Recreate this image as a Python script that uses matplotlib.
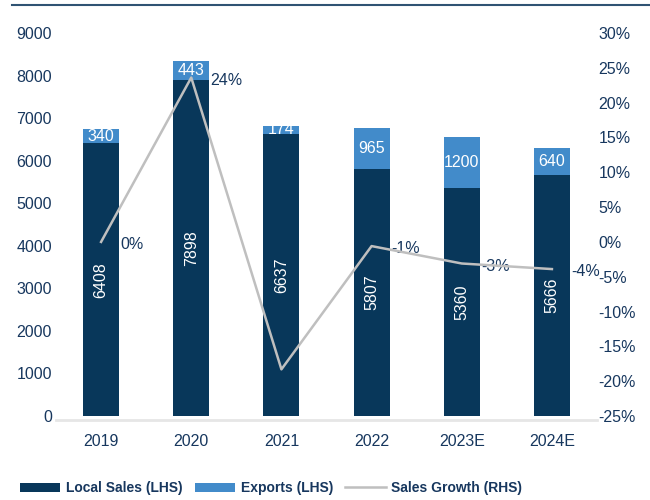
import matplotlib
matplotlib.use("Agg")
import matplotlib.pyplot as plt
from matplotlib.lines import Line2D

plt.rcParams['font.family'] = ['Liberation Sans', 'DejaVu Sans']

years = ["2019", "2020", "2021", "2022", "2023E", "2024E"]
local_sales = [6408, 7898, 6637, 5807, 5360, 5666]
exports = [340, 443, 174, 965, 1200, 640]
growth = [0.0, 23.6, -18.3, -0.6, -3.1, -3.9]
growth_labels = ["0%", "24%", "", "-1%", "-3%", "-4%"]

navy = "#08375a"
blue = "#428bca"
grey = "#bfbfbf"
txt = "#17375e"

fig = plt.figure(figsize=(6.5, 5), dpi=100)
ax = fig.add_axes([56/650, 84/500, 541/650, 383/500])
ax2 = ax.twinx()

x = list(range(len(years)))
ax.bar(x, local_sales, width=0.4, color=navy, zorder=2, label="Local Sales (LHS)")
ax.bar(x, exports, width=0.4, bottom=local_sales, color=blue, zorder=2, label="Exports (LHS)")

for i in x:
    ax.text(i, local_sales[i] / 2, str(local_sales[i]), rotation=90, ha="center", va="center",
            color="white", fontsize=11.5, zorder=3)
    ax.text(i, local_sales[i] + exports[i] / 2, str(exports[i]), ha="center", va="center",
            color="white", fontsize=11.5, zorder=3, clip_on=True)

ax.set_xlim(-0.5, 5.5)
ax.set_ylim(0, 9000)
ax.set_yticks(range(0, 9001, 1000))
ax.set_xticks(x)
ax.set_xticklabels(years)

ax2.plot(x, growth, color=grey, lw=1.8, zorder=5, label="Sales Growth (RHS)")
for i in x:
    if growth_labels[i]:
        ax2.annotate(growth_labels[i], (i, growth[i]), xytext=(14, -2), textcoords="offset points",
                     ha="left", va="center", fontsize=11.5, color=txt, zorder=1)
ax2.set_ylim(-25, 30)
ax2.set_yticks(range(-25, 31, 5))
ax2.set_yticklabels([f"{v}%" for v in range(-25, 31, 5)])

for a in (ax, ax2):
    for s in a.spines.values():
        s.set_visible(False)
    a.tick_params(length=0, labelsize=11.5, labelcolor=txt)
ax.tick_params(axis="x", pad=10)
ax.tick_params(axis="y", pad=3)
ax2.tick_params(axis="y", pad=1)
ax.spines["bottom"].set_visible(True)
ax.spines["bottom"].set_color("#e6e6e6")
ax.spines["bottom"].set_linewidth(2)
ax.spines["bottom"].set_position(("outward", 3))

fig.add_artist(Line2D([12/650, 1], [0.99, 0.99], color="#2f5373", lw=1.5))

h1, l1 = ax.get_legend_handles_labels()
h2, l2 = ax2.get_legend_handles_labels()
leg = fig.legend(h1 + h2, l1 + l2, loc="center", bbox_to_anchor=(271/650, 12/500), ncol=3,
                 frameon=False, handlelength=2.9, handleheight=0.6, columnspacing=0.9,
                 handletextpad=0.4, prop={"weight": "bold", "size": 10})
for t in leg.get_texts():
    t.set_color(txt)

fig.savefig("out.png", dpi=100)
